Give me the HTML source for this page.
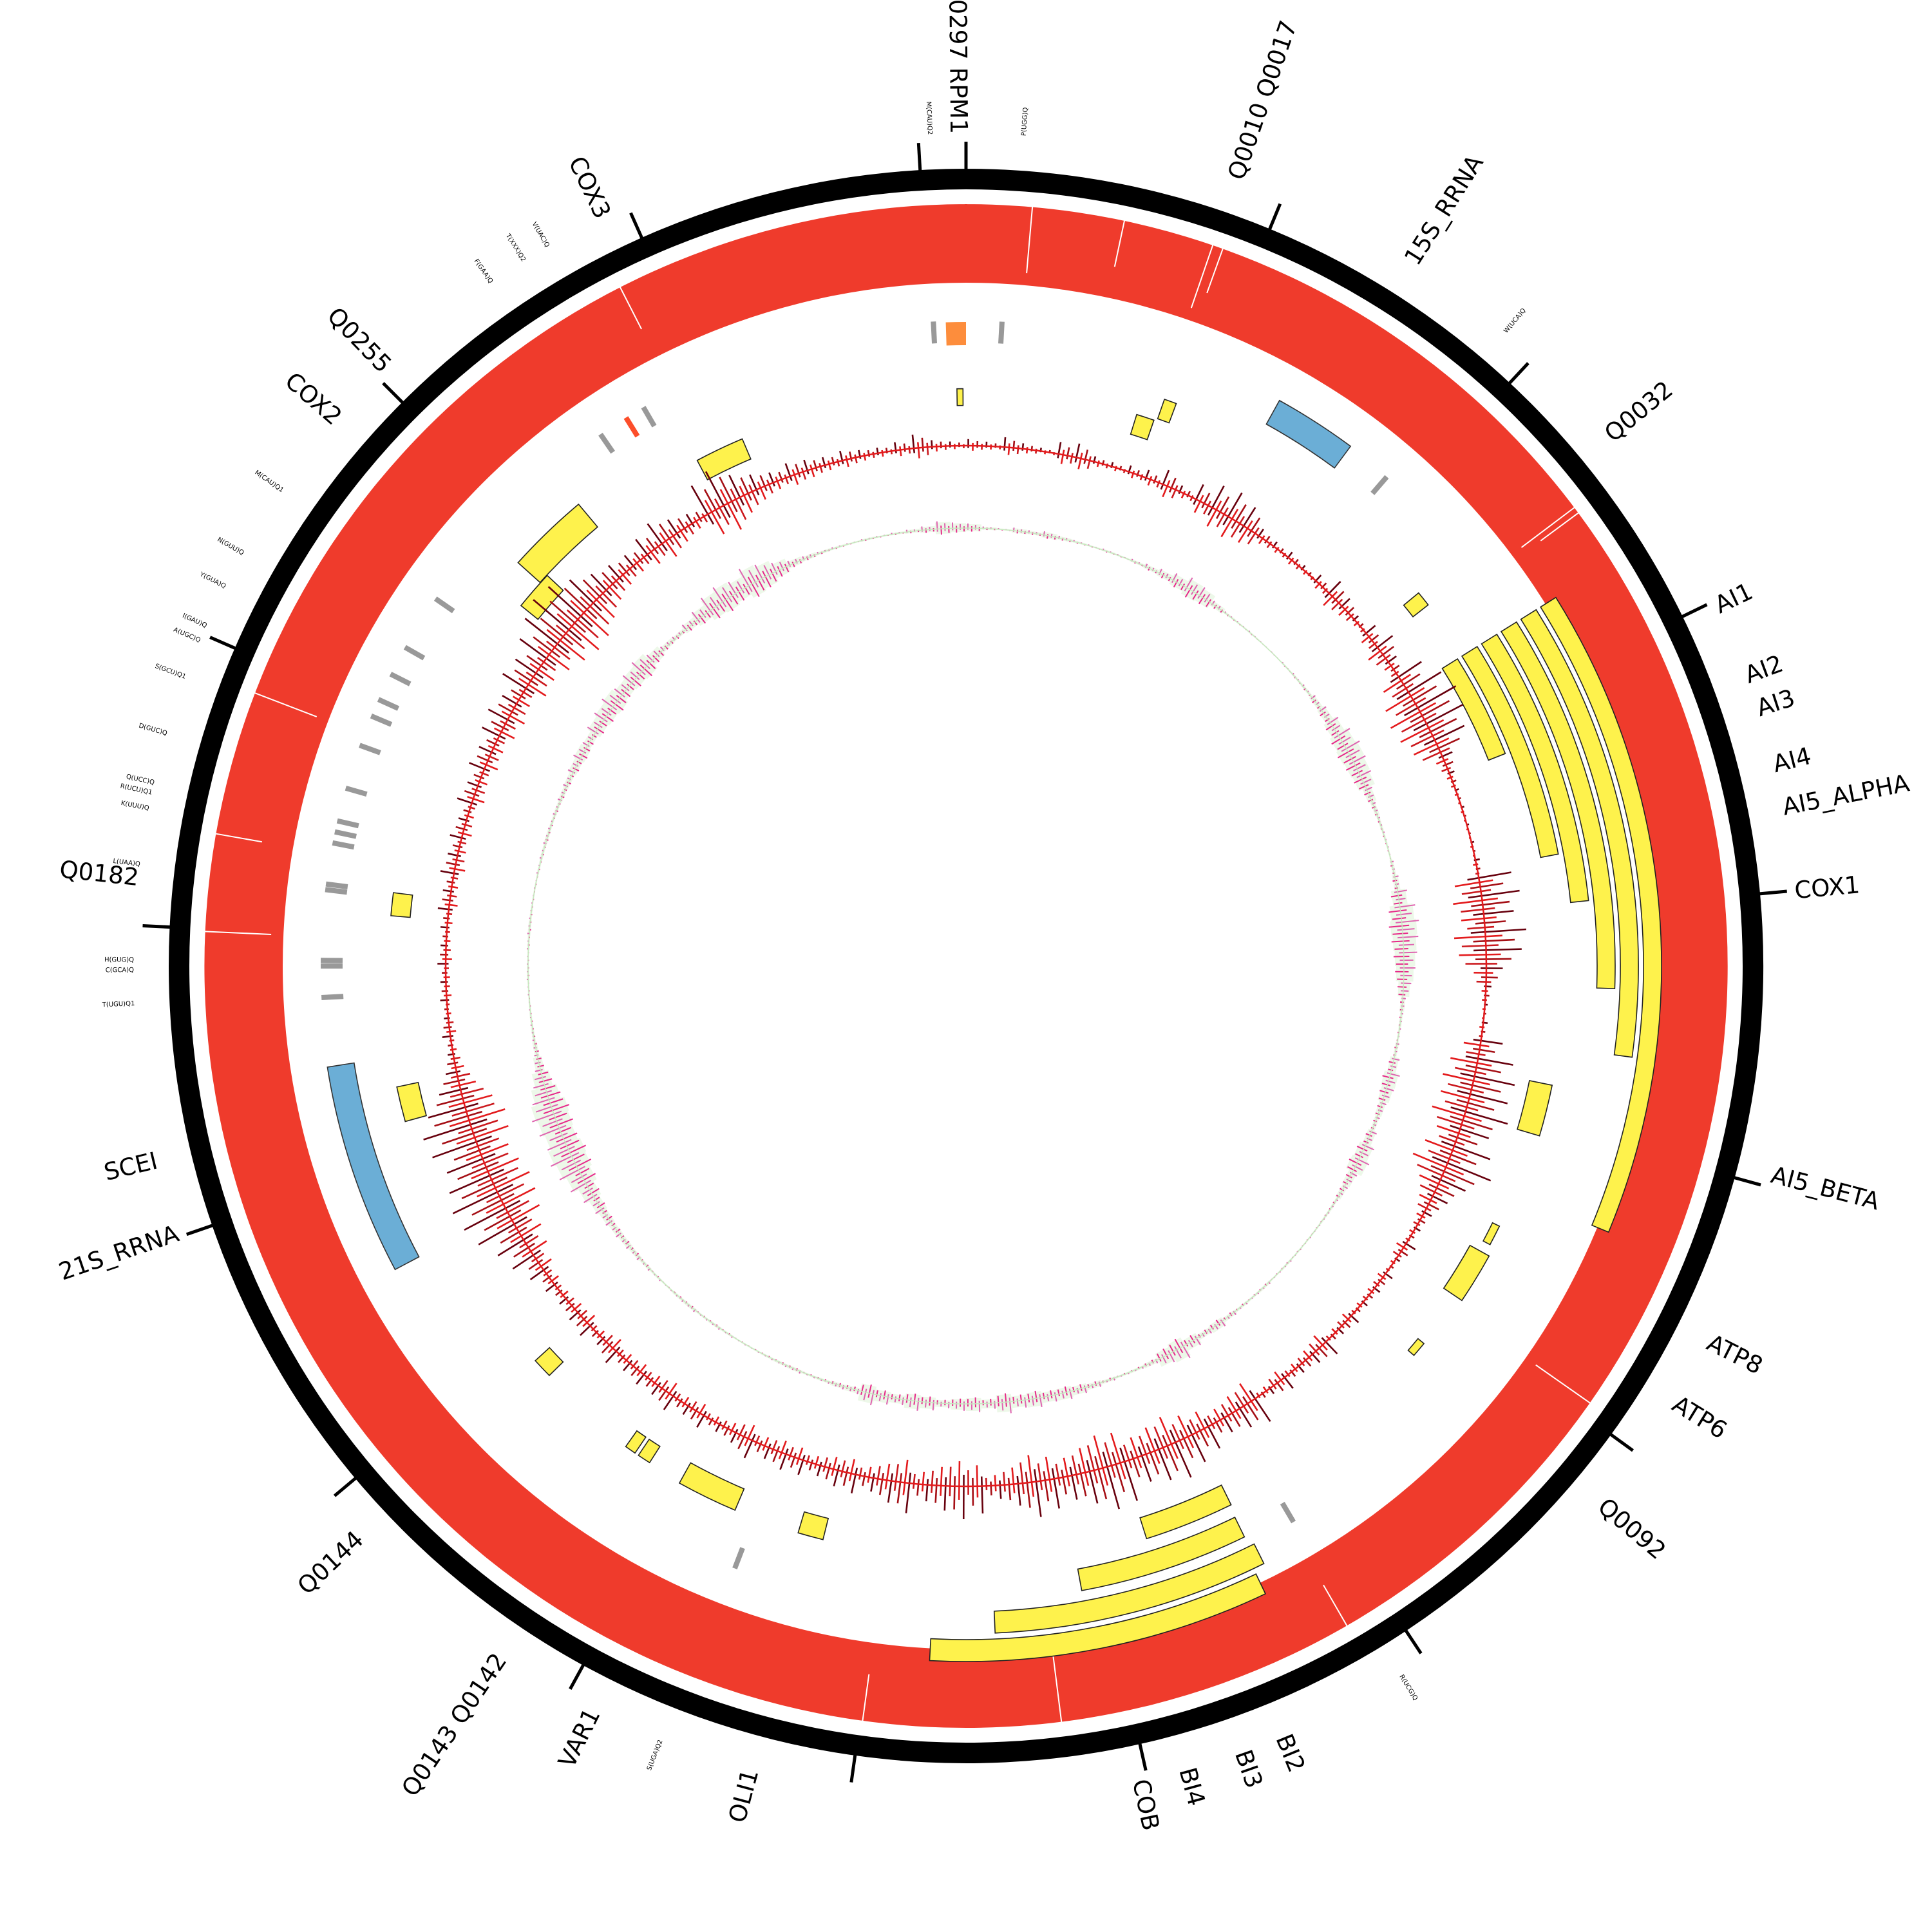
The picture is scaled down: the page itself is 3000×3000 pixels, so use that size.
<!DOCTYPE html>
<html><head><meta charset="utf-8"><title>Mitochondrial genome circular map</title>
<style>html,body{margin:0;padding:0;background:#fff}svg{display:block}</style></head>
<body>
<svg id="chart" xmlns="http://www.w3.org/2000/svg" width="3000" height="3000" viewBox="0 0 3000 3000">
<rect width="3000" height="3000" fill="#fff"/>
<g id="g-ring"></g>
<g id="g-feat"></g>
<g id="g-hist"></g>
<g id="g-skew"></g>
<g id="g-lab"></g>
</svg>
<script>
// ---- data ----
const tickAngles=[-3.3,0,22.4,43,64,84.8,105.4,126,146.5,167.4,188,208.7,230,251,272.8,293.5,315,336];
const bigLabels=["Q0297 RPM1","Q0010 Q0017","15S_RRNA","Q0032","AI1","AI2","AI3","AI4","AI5_ALPHA","COX1","AI5_BETA","ATP8","ATP6","Q0092","BI2","BI3","BI4","COB","OLI1","VAR1","Q0143 Q0142","Q0144","21S_RRNA","SCEI","Q0182","COX2","Q0255","COX3"];
const bigAngles=[-0.5,18.9,32.3,50.5,64.4,69.6,72,76,79,84.8,104.5,116.8,121.6,130.2,157.6,160.6,164.6,167.9,195,206.6,214,226.8,251.3,256.5,276.1,311,315.9,334.2];
const smallLabels=["M(CAU)Q2","P(UGG)Q","W(UCA)Q","R(UCG)Q","S(UGA)Q2","T(UGU)Q1","C(GCA)Q","H(GUG)Q","L(UAA)Q","K(UUU)Q","R(UCU)Q1","Q(UCC)Q","D(GUC)Q","S(GCU)Q1","A(UGC)Q","I(GAU)Q","Y(GUA)Q","N(GUU)Q","M(CAU)Q1","F(GAA)Q","T(XXX)Q2","V(UAC)Q"];
const smallAngles=[-2.5,4,40.4,148.5,201.5,267.4,269.7,270.4,277,280.9,282,282.7,286.2,290.3,293,294.1,297.1,299.7,304.8,325.2,327.9,329.8];
// yellow gene boxes: start angle, end angle, lane, height
const geneStart=[58,58,58,58,58,58,154.5,153.5,154,153.8,-0.9,17.2,19.3,50.5,101.5,116,119,129.5,194,203,212.5,214.2,225.5,254.5,275,312,309,332];
const geneEnd=[112.5,97.8,92,84,79.3,68.5,183,177.5,169.5,162.5,-0.3,19,20.5,52,106.5,118,124,131,196.5,209,213.8,215.3,227.5,258,277.3,320,313,337];
const geneLane=[0,1,2,3,4,5,0,1.2,2.6,4.1,5.1,5.1,4.1,4.7,4.2,4.4,4.2,4.4,4.5,4.5,4.6,4.6,4.8,4.9,5.1,4.0,5.3,5.3];
const geneH=[28,28,28,28,28,28,34,34,34,34,26,32,32,30,36,12,34,12,34,36,30,30,30,34,30,46,34,34];
// rRNA (blue)
const rrnaStart=[29,242];
const rrnaEnd=[36.5,261];
// tRNA ticks (grey)
const trnaAngles=[-2.9,3.2,40.7,149.5,201,267.2,270,270.5,276.8,277.3,281,282,283,286,290,292.8,294.4,296.9,299.6,304.7,325.5,330];
// red ring gaps
const gapAngles=[18.9,19.7,53,53.5,125,150,172.8,187.8,272.6,280,291,333,5,12];
// GC content (2 degree bins)
const gcVals=[12,8,18,10,6,22,26,10,8,12,15,28,12,30,45,50,40,15,10,12,8,14,30,20,10,22,35,18,50,70,80,75,60,20,10,6,5,4,5,8,60,70,55,75,65,30,10,5,8,40,65,75,70,80,55,70,85,50,30,15,10,20,8,15,12,10,18,12,30,20,15,25,12,50,40,30,45,55,70,60,50,75,80,60,45,55,65,40,25,50,60,45,30,55,40,25,35,30,20,28,30,22,35,20,15,25,18,30,20,22,18,28,15,25,20,15,20,30,45,55,75,85,90,80,70,85,90,70,40,20,10,15,8,12,10,15,10,12,20,15,25,18,22,15,28,20,30,25,35,40,30,50,45,60,75,85,80,60,40,30,25,35,45,30,20,60,70,45,30,20,25,20,15,18,12,10,15,25,12,8];
// GC skew (2 degree bins)
const skewVals=[12,5,3,8,6,10,6,4,3,4,3,5,8,12,20,30,25,10,4,3,3,2,2,3,4,5,10,15,25,35,40,35,30,15,8,5,4,3,6,10,25,40,45,40,35,30,20,8,5,4,6,15,25,20,12,8,15,25,30,15,10,5,4,3,3,3,4,3,5,4,5,8,15,10,20,35,25,8,5,4,6,10,15,20,18,25,20,30,15,22,18,12,20,25,15,20,30,10,8,5,4,6,5,4,3,3,4,5,4,6,5,3,4,6,8,10,12,15,20,30,45,55,60,50,55,60,45,30,15,8,5,4,3,3,4,3,4,5,4,3,3,4,5,6,5,6,8,10,15,20,15,25,30,35,25,30,35,20,10,8,15,25,40,45,35,50,40,25,12,8,5,4,3,4,3,4,6,10,20,15];

// ---- drawing ----
const NS="http://www.w3.org/2000/svg",C=1500;
function P(a,r){const t=a*Math.PI/180;return [C+r*Math.sin(t),C-r*Math.cos(t)];}
function sector(a0,a1,r0,r1){const L=(a1-a0)>180?1:0;const p1=P(a0,r1),p2=P(a1,r1),p3=P(a1,r0),p4=P(a0,r0);
return `M${p1[0]},${p1[1]}A${r1},${r1} 0 ${L} 1 ${p2[0]},${p2[1]}L${p3[0]},${p3[1]}A${r0},${r0} 0 ${L} 0 ${p4[0]},${p4[1]}Z`;}
function mk(tag,attrs,parent){const e=document.createElementNS(NS,tag);for(const k in attrs)e.setAttribute(k,attrs[k]);parent.appendChild(e);return e;}
function laneOuter(l){return 1080-36*l;}

const gR=document.getElementById('g-ring'),gF=document.getElementById('g-feat'),gH=document.getElementById('g-hist'),gS=document.getElementById('g-skew'),gL=document.getElementById('g-lab');

let e=mk('path',{d:sector(0,179.99,1206,1238)+sector(179.99,359.99,1206,1238)+sector(359.9,360.1,1206,1238),fill:'#000'},gR);


e=mk('path',{d:sector(0,179.99,1061,1183)+sector(179.99,359.99,1061,1183)+sector(359.9,360.1,1061,1183),fill:'#ef3b2c'},gR);


gapAngles.forEach((a,i)=>{const p=P(a,i%2?1110:1080),q=P(a,1186);
 const l=mk('line',{x1:p[0],y1:p[1],x2:q[0],y2:q[1],stroke:'#fff','stroke-width':2},gR);
 
 });
tickAngles.forEach(a=>{const p=P(a,1236),q=P(a,1280);
 const l=mk('line',{x1:p[0],y1:p[1],x2:q[0],y2:q[1],stroke:'#000','stroke-width':5},gR);
 
 });

for(let i=0;i<geneStart.length;i++){const ro=laneOuter(geneLane[i]);
 const g=mk('path',{d:sector(geneStart[i],geneEnd[i],ro-geneH[i],ro),fill:'#fef24c',stroke:'#222','stroke-width':1.6},gF);
 
 }
for(let i=0;i<rrnaStart.length;i++){
 const g=mk('path',{d:sector(rrnaStart[i],rrnaEnd[i],962,1004),fill:'#6baed6',stroke:'#333','stroke-width':1.6},gF);
 
 }
trnaAngles.forEach((a,i)=>{const p=P(a,968),q=P(a,1002);
 const l=mk('line',{x1:p[0],y1:p[1],x2:q[0],y2:q[1],stroke:'#999','stroke-width':8},gF);
 
 });
e=mk('line',{x1:P(328.2,968)[0],y1:P(328.2,968)[1],x2:P(328.2,1002)[0],y2:P(328.2,1002)[1],stroke:'#fc4e2a','stroke-width':8},gF);


e=mk('path',{d:sector(-1.8,0,964,1000),fill:'#fd8d3c'},gF);



// GC content histogram
const HB=808,mo=[0.85,0.35,0.6,0.26],mi=[0.3,0.65,0.26,0.5],cols=['#67000d','#e31a1c','#a50f15','#cb181d'];
gcVals.forEach((v,i)=>{for(let k=0;k<4;k++){const a=2*i+0.25+0.5*k;const p=P(a,HB-v*mi[k]),q=P(a,HB+v*mo[k]);
 const l=mk('line',{x1:p[0],y1:p[1],x2:q[0],y2:q[1],stroke:cols[k],'stroke-width':2.6},gH);
 
 }});
e=mk('circle',{cx:C,cy:C,r:HB,fill:'none',stroke:'#e31a1c','stroke-width':2.5},gH);



// GC skew
const SB=680;
skewVals.forEach((v,i)=>{const w=mk('path',{d:sector(2*i,2*i+2,SB-v*0.4,SB+v*0.5),fill:'#edf8e9'},gS);
 
 
 for(let k=0;k<4;k++){const a=2*i+0.25+0.5*k;const p=P(a,SB-v*mi[k]*0.7),q=P(a,SB+v*mo[k]*0.7);
 const l=mk('line',{x1:p[0],y1:p[1],x2:q[0],y2:q[1],stroke:k%2?'#e7298a':'#df65b0','stroke-width':2},gS);
 
 }});
e=mk('circle',{cx:C,cy:C,r:SB,fill:'none',stroke:'#c7e9c0','stroke-width':1.5},gS);



function label(txt,a,size,name){let aa=((a%360)+360)%360;const right=aa>0.01&&aa<180;const p=P(a,1292);
 const t=mk('text',{x:p[0],y:p[1],'font-family':'DejaVu Sans, Liberation Sans, sans-serif','font-size':size,fill:'#000','text-anchor':right?'start':'end','dominant-baseline':'central',transform:`rotate(${right?a-90:a+90},${p[0]},${p[1]})`},gL);
 t.textContent=txt;
 
 }
bigLabels.forEach((s,i)=>label(s,bigAngles[i],37,'gene-label'));
smallLabels.forEach((s,i)=>label(s,smallAngles[i],10,'trna-label'));
</script>
</body></html>
